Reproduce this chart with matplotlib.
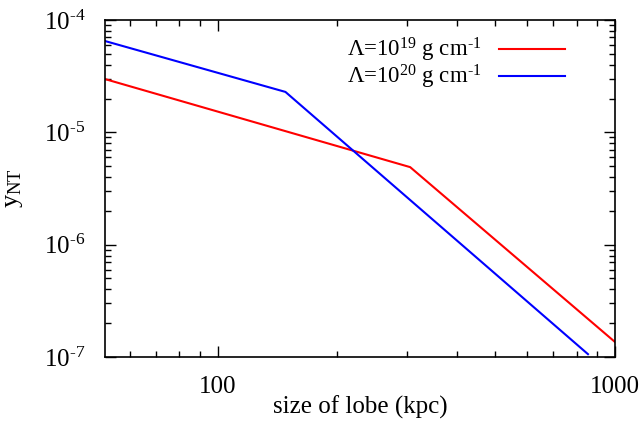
import matplotlib
matplotlib.use("Agg")
import matplotlib.pyplot as plt
from matplotlib.ticker import LogLocator, FuncFormatter, NullFormatter
import numpy as np

plt.rcParams['font.family'] = ['Liberation Serif', 'DejaVu Serif']
plt.rcParams['mathtext.fontset'] = 'custom'
plt.rcParams['mathtext.rm'] = 'Liberation Serif'
plt.rcParams['mathtext.it'] = 'Liberation Serif:italic'
plt.rcParams['mathtext.default'] = 'regular'

# Data
red_x = [52, 305, 1000]
red_y = [2.98e-5, 4.9e-6, 1.36e-7]
blue_x = [52, 148, 855]
blue_y = [6.5e-5, 2.29e-5, 1.06e-7]
red_label = '$\\Lambda$=10$^{19}$ g cm$^{\u20101}$'
blue_label = '$\\Lambda$=10$^{20}$ g cm$^{\u20101}$'

fig = plt.figure(figsize=(6.44, 4.29), dpi=100)
ax = fig.add_axes([105/644, 1-357/429, (615-105)/644, (357-20)/429])

ax.plot(red_x, red_y, color='#ff0000', lw=1.5, label=red_label)
ax.plot(blue_x, blue_y, color='#0000ff', lw=1.5, label=blue_label)

ax.set_xscale('log')
ax.set_yscale('log')
ax.set_xlim(52, 1000)
ax.set_ylim(1e-7, 1e-4)

ax.xaxis.set_major_locator(LogLocator(base=10, numticks=10))
ax.xaxis.set_minor_locator(LogLocator(base=10, subs=np.arange(2, 10), numticks=20))
ax.yaxis.set_major_locator(LogLocator(base=10, numticks=10))
ax.yaxis.set_minor_locator(LogLocator(base=10, subs=np.arange(2, 10), numticks=20))
ax.xaxis.set_major_formatter(FuncFormatter(lambda v, p: f"{int(round(v))}"))
ax.xaxis.set_minor_formatter(NullFormatter())
ax.yaxis.set_major_formatter(FuncFormatter(
    lambda v, p: "10$^{\u2010%d}$" % abs(int(round(np.log10(v))))))
ax.yaxis.set_minor_formatter(NullFormatter())

ax.tick_params(which='both', direction='in', top=True, right=True, labelsize=18, width=1)
ax.tick_params(axis='y', which='both', pad=14)
ax.tick_params(axis='x', which='both', pad=14)
ax.tick_params(which='major', length=8)
ax.tick_params(which='minor', length=4)
for s in ax.spines.values():
    s.set_linewidth(1.2)

ax.set_xlabel('size of lobe (kpc)', fontsize=18, labelpad=-2)
ax.set_ylabel('y$_{NT}$', fontsize=19, labelpad=14)

leg = ax.legend(loc='upper right', frameon=False, fontsize=16.5, markerfirst=False,
                handlelength=2.9, handletextpad=0.75, labelspacing=-0.05,
                bbox_to_anchor=(0.92, 0.98), borderaxespad=0)
for t in leg.get_texts():
    t.set_ha('right')

fig.savefig('out.png', dpi=100)
